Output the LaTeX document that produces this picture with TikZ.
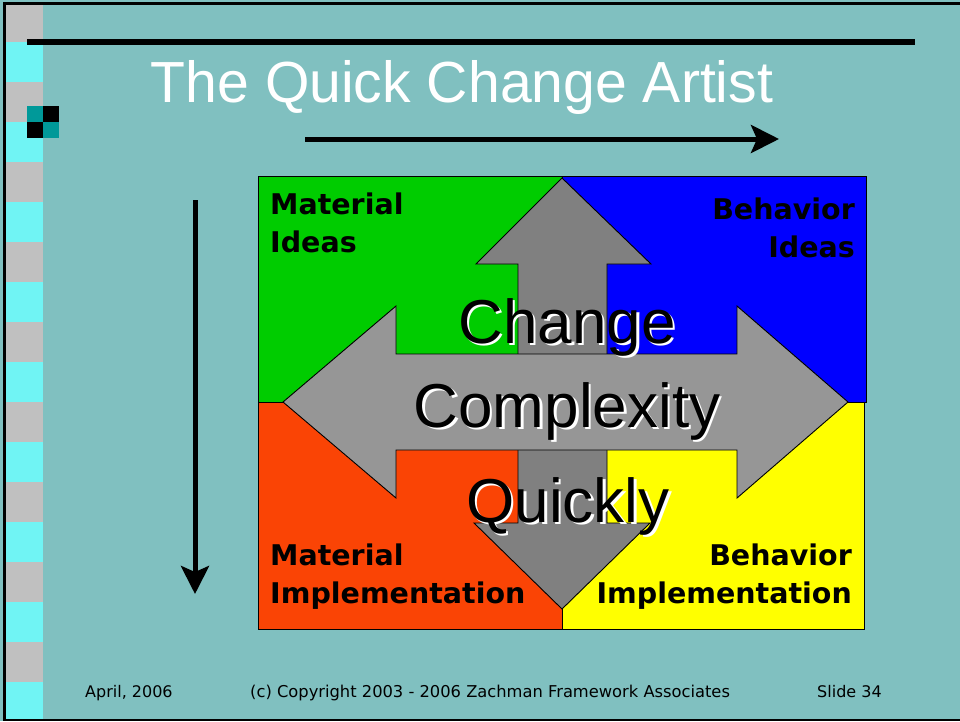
\documentclass[tikz,border=0pt]{standalone}
\usepackage{fontspec}
\setmainfont{Liberation Sans}
\newfontfamily\verdana{DejaVu Sans}
\usetikzlibrary{arrows.meta}

\definecolor{sfondo}{RGB}{128,192,192}
\definecolor{grigiochiaro}{RGB}{192,192,192}
\definecolor{ciano}{RGB}{112,244,244}
\definecolor{ottanio}{RGB}{0,153,153}
\definecolor{verde}{RGB}{0,204,0}
\definecolor{blu}{RGB}{0,0,255}
\definecolor{arancio}{RGB}{250,68,5}
\definecolor{giallo}{RGB}{255,255,0}
\definecolor{grigioV}{RGB}{128,128,128}
\definecolor{grigioO}{RGB}{150,150,150}

\begin{document}
\begin{tikzpicture}[x=1pt,y=-1pt,
    quad/.style={draw=black, line width=0.9pt},
    asse/.style={line width=5pt, -{Stealth[length=28pt,width=28pt,inset=6pt]}},
    etichetta/.style={inner sep=0pt, font=\verdana\bfseries\fontsize{28.5}{38}\selectfont},
    parola/.style={inner sep=0pt, anchor=base, font=\fontsize{62}{62}\selectfont},
    piede/.style={inner sep=0pt, anchor=base west, font=\verdana\fontsize{16}{16}\selectfont}]
    \useasboundingbox (0,0) rectangle (960,721);

    % Sfondo
    \fill[sfondo] (0,0) rectangle (960,721);

    % Striscia a sinistra
    \foreach \k in {0,...,8} {
        \fill[grigiochiaro] (5,{2+80*\k}) rectangle (43,{42+80*\k});
        \fill[ciano] (5,{42+80*\k}) rectangle (43,{min(82+80*\k,719)});
    }

    % Cornice
    \draw[line width=2.5pt] (960,3.5) -- (4.5,3.5) -- (4.5,720) -- (960,720);

    % Titolo
    \draw[line width=6pt] (27,42) -- (915,42);
    \fill[ottanio] (27,106) rectangle (43,122);
    \fill[black] (43,106) rectangle (59,122);
    \fill[black] (27,122) rectangle (43,138);
    \fill[ottanio] (43,122) rectangle (59,138);
    \node[inner sep=0pt, anchor=base, text=white, font=\fontsize{58}{58}\selectfont, xscale=0.985] (titolo) at (462,102) {The Quick Change Artist};

    % Assi
    \coordinate (orizA) at (305,139);
    \coordinate (orizB) at (779,139);
    \draw[asse] (orizA) -- (orizB);
    \coordinate (vertA) at (195,200);
    \coordinate (vertB) at (195,594);
    \draw[asse] (vertA) -- (vertB);

    % Quadranti
    \filldraw[quad, fill=verde] (258,176) rectangle (562,402);
    \filldraw[quad, fill=blu] (562,176) rectangle (866,402);
    \filldraw[quad, fill=arancio] (258,402) rectangle (562,629);
    \filldraw[quad, fill=giallo] (562,402) rectangle (864,629);

    % Freccia verticale
    \filldraw[quad, fill=grigioV] (562,178) -- (651,264) -- (607,264) -- (607,523) -- (650,523)
        -- (562,609) -- (474,523) -- (518,523) -- (518,264) -- (476,264) -- cycle;

    % Freccia orizzontale
    \filldraw[quad, fill=grigioO] (283,402) -- (396,306) -- (396,354) -- (737,354) -- (737,306)
        -- (848,402) -- (737,498) -- (737,450) -- (396,450) -- (396,498) -- cycle;

    % Etichette
    \node[etichetta, anchor=north west, align=left] (matIdee) at (270,193) {Material\\Ideas};
    \node[etichetta, anchor=north east, align=right] (behIdee) at (855,198) {Behavior\\Ideas};
    \node[etichetta, anchor=north west, align=left] (matImpl) at (270,544) {Material\\Implementation};
    \node[etichetta, anchor=north east, align=right] (behImpl) at (852,544) {Behavior\\Implementation};

    % Parole con ombra
    \node[parola, white] (changeOmbra) at (569.5,345.5) {Change};
    \node[parola] (change) at (567,343) {Change};
    \node[parola, white] (complexOmbra) at (569.5,429.5) {Complexity};
    \node[parola] (complex) at (567,427) {Complexity};
    \node[parola, white] (quickOmbra) at (570.5,524.5) {Quickly};
    \node[parola] (quick) at (568,522) {Quickly};

    % Piede
    \node[piede] (data) at (85,697) {April, 2006};
    \node[piede, font=\verdana\fontsize{16.3}{16}\selectfont] (copyright) at (250,697) {(c) Copyright 2003 - 2006 Zachman Framework Associates};
    \node[piede] (slide) at (817,697) {Slide 34};
\end{tikzpicture}
\end{document}
